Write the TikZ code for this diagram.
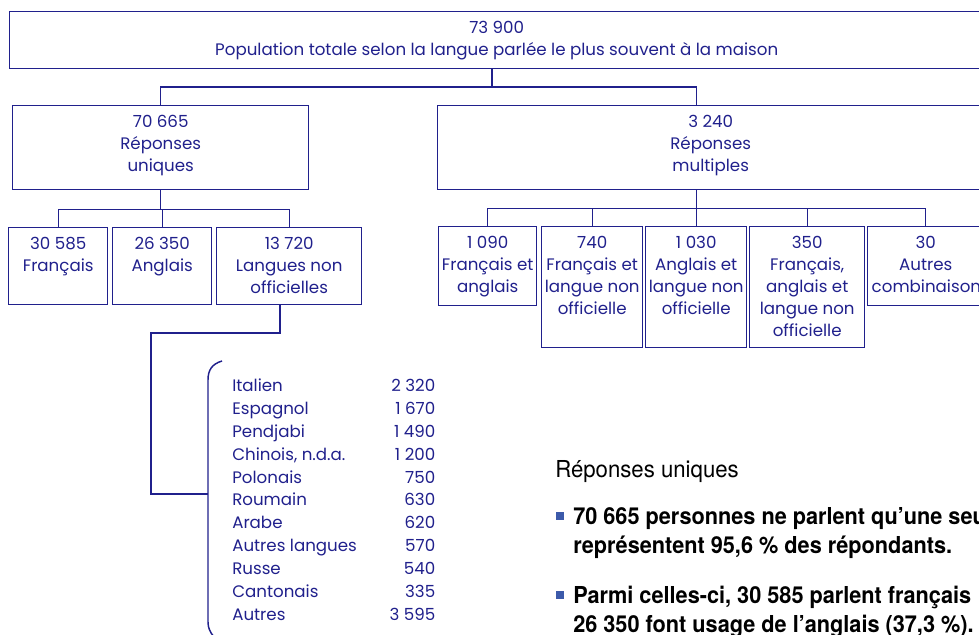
\documentclass[tikz,border=0pt]{standalone}
\usepackage{fontspec}
\usepackage{array}
\setmainfont{Poppins}
\newfontfamily\notefont[FakeStretch=0.95]{TeX Gyre Heros}
\newfontfamily\boldnotefont[FakeStretch=0.93]{TeX Gyre Heros Bold}
\definecolor{navy}{RGB}{32,32,140}
\definecolor{bulletblue}{RGB}{60,90,170}
\newdimen\pxu \pxu=0.75pt
\newcommand{\boxtext}[3]{\parbox[t][#2\pxu][t]{#1\pxu}{\centering\rule{0pt}{16pt}#3}}
\tikzstyle{cell}=[draw=navy,line width=1.1pt,inner sep=0pt,anchor=north west,text=navy,font={\fontsize{12.5}{16.5}\selectfont}]
\tikzstyle{link}=[draw=navy,line width=1.1pt]
\tikzstyle{note}=[inner sep=0pt,anchor=base west,font={\notefont\fontsize{17.5}{21.75}\selectfont}]
\tikzstyle{dot}=[fill=bulletblue,minimum size=6pt,inner sep=0pt]

\begin{document}
\begin{tikzpicture}[x=0.75pt,y=-0.75pt]
      \useasboundingbox (0,0) rectangle (979,635);
      \clip (0,0) rectangle (979,635);
      % total
      \node[cell] (top) at (9,11) {\boxtext{974}{57}{73 900\\Population totale selon la langue parlée le plus souvent à la maison}};
      % single / multiple
      \node[cell] (uniq) at (12,105) {\boxtext{296}{84}{70 665\\Réponses\\uniques}};
      \node[cell] (mult) at (437,105) {\boxtext{546}{84}{3 240\\Réponses\\multiples}};
      % single answers
      \node[cell] (fr) at (8,227) {\boxtext{99}{77}{30 585\\Français}};
      \node[cell] (en) at (112,227) {\boxtext{99}{77}{26 350\\Anglais}};
      \node[cell] (nonoff) at (216,227) {\boxtext{145}{77}{13 720\\Langues non\\officielles}};
      % multiple answers
      \node[cell] (fe) at (438,226) {\boxtext{98}{79}{1 090\\Français et\\anglais}};
      \node[cell] (fn) at (541,226) {\boxtext{101}{121}{740\\Français et\\langue non\\officielle}};
      \node[cell] (an) at (645,226) {\boxtext{101}{121}{1 030\\Anglais et\\langue non\\officielle}};
      \node[cell] (fan) at (749,226) {\boxtext{115}{121}{350\\Français,\\anglais et\\langue non\\officielle}};
      \node[cell] (autre) at (867,226) {\boxtext{116}{79}{30\\Autres\\\makebox[116\pxu][l]{\hspace*{4\pxu}combinaisons}}};
      % connectors
      \coordinate (j0) at (492,87);
      \draw[link] (j0 |- top.south) -- (j0);
      \draw[link] (uniq.north) |- (j0) -| (an.north |- mult.north);
      \draw[link] (uniq.south) -- ++(0,19) coordinate (j1);
      \draw[link] (fr.north) |- (j1) -| (nonoff.north);
      \draw[link] (en.north) -- (en.north |- j1);
      \draw[link] (an.north |- mult.south) -- ++(0,18) coordinate (j2);
      \draw[link] (fe.north) |- (j2) -| (autre.north);
      \draw[link] (fn.north) -- (fn.north |- j2);
      \draw[link] (fan.north) -- (fan.north |- j2);
      \draw[link] (an.north) -- (j2);
      % non-official languages
      \node[anchor=north west,inner sep=0pt,text=navy,font={\fontsize{12.5}{17.2}\selectfont}] (langs) at (232,375) {%
        \begin{tabular}{@{}p{130\pxu}@{}>{\raggedleft\arraybackslash}p{73\pxu}@{}}
          Italien & 2 320\\
          Espagnol & 1 670\\
          Pendjabi & 1 490\\
          Chinois, n.d.a. & 1 200\\
          Polonais & 750\\
          Roumain & 630\\
          Arabe & 620\\
          Autres langues & 570\\
          Russe & 540\\
          Cantonais & 335\\
          Autres & 3 595
        \end{tabular}};
      \coordinate (b0) at (222,361);
      \coordinate (b1) at (208,494);
      \coordinate (k0) at (280,333);
      \coordinate (k1) at (151,494);
      \draw[link] (b0) .. controls (212,364) and (208,370) .. (208,380) -- (208,622) .. controls (208,628) and (210,632) .. (214,637);
      \draw[link] (k0 |- nonoff.south) -- (k0) -| (k1) -- (b1);
      % notes
      \node[note] (head) at (555,477) {Réponses uniques};
      \node[dot] (sq1) at (560,516) {};
      \node[note,font={\boldnotefont\fontsize{17.5}{21.75}\selectfont}] (note1) at (573,524) {\parbox[t]{600\pxu}{70 665 personnes ne parlent qu’une seule\\représentent 95,6 \% des répondants.}};
      \node[dot] (sq2) at (560,595) {};
      \node[note,font={\boldnotefont\fontsize{17.5}{21.75}\selectfont}] (note2) at (573,603) {\parbox[t]{600\pxu}{Parmi celles-ci, 30 585 parlent français\\26 350 font usage de l’anglais (37,3 \%).}};
\end{tikzpicture}
\end{document}
